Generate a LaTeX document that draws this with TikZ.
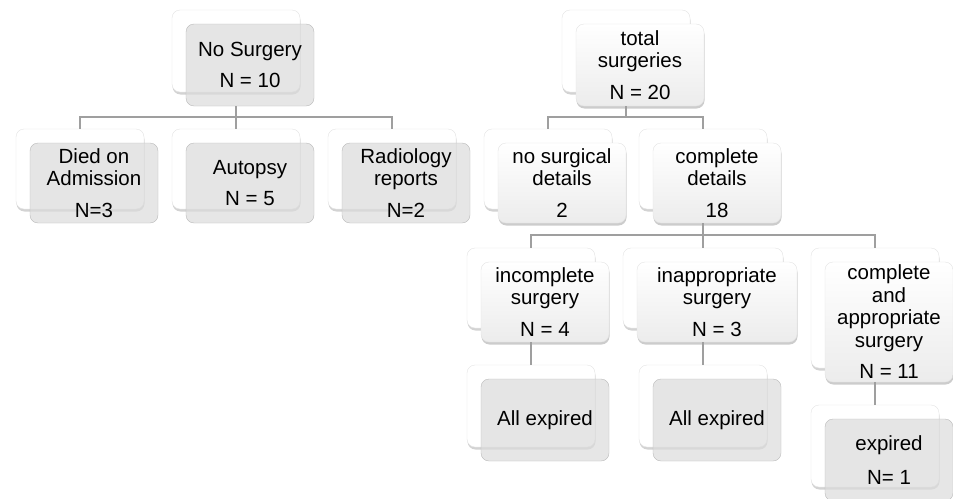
\documentclass[tikz,border=0pt]{standalone}
\usepackage{fontspec}
\setmainfont{Liberation Sans}
\usetikzlibrary{shadows}
\tikzset{
	box/.style={rounded corners=8pt, minimum width=128pt, minimum height=80pt, inner sep=0pt,
		align=center, font=\fontsize{20.5}{22.5}\selectfont},
	backbox/.style={box, draw=gray!22, fill=white,
		drop shadow={shadow xshift=0.5pt, shadow yshift=-2.5pt, opacity=0.35}},
	graybox/.style={box, draw=gray!55, fill=gray!28, fill opacity=0.7, text opacity=1},
	whitebox/.style={box, draw=gray!22, top color=white, bottom color=gray!15,
		drop shadow={shadow xshift=0.5pt, shadow yshift=-2.5pt, opacity=0.4}},
	link/.style={draw=gray!75, line width=1.5pt}
}
\begin{document}
\begin{tikzpicture}[x=1pt, y=-1pt]
	\useasboundingbox (0,0) rectangle (953,498);
	% left tree
	\node[backbox, minimum height=82pt] (nos-b) at (236,51) {};
	\node[graybox, minimum height=82pt] (nos) at (250,65) {No Surgery\\[9pt]N = 10};
	\node[backbox] (died-b) at (80,169) {};
	\node[graybox] (died) at (94,183) {Died on\\Admission\\[9pt]N=3};
	\node[backbox] (aut-b) at (236,169) {};
	\node[graybox] (aut) at (250,183) {Autopsy\\[9pt]N = 5};
	\node[backbox] (rad-b) at (392,169) {};
	\node[graybox] (rad) at (406,183) {Radiology\\reports\\[9pt]N=2};
	% right tree
	\node[backbox, minimum height=82pt] (tot-b) at (626,51) {};
	\node[whitebox, minimum height=82pt] (tot) at (640,65) {total\\surgeries\\[9pt]N = 20};
	\node[backbox] (nodet-b) at (548,169) {};
	\node[whitebox] (nodet) at (562,183) {no surgical\\details\\[9pt]2};
	\node[backbox] (comp-b) at (703,169) {};
	\node[whitebox] (comp) at (717,183) {complete\\details\\[9pt]18};
	\node[backbox] (inc-b) at (531,288) {};
	\node[whitebox] (inc) at (545,302) {incomplete\\surgery\\[9pt]N = 4};
	\node[backbox, minimum width=160pt] (inap-b) at (703,288) {};
	\node[whitebox, minimum width=160pt] (inap) at (717,302) {inappropriate\\surgery\\[9pt]N = 3};
	\node[backbox, minimum height=120pt] (cap-b) at (875,308) {};
	\node[whitebox, minimum height=120pt] (cap) at (889,322) {complete\\and\\appropriate\\surgery\\[9pt]N = 11};
	\node[backbox, minimum height=82pt] (allx1-b) at (531,406) {};
	\node[graybox, minimum height=82pt] (allx1) at (545,420) {All expired};
	\node[backbox, minimum height=82pt] (allx2-b) at (703,406) {};
	\node[graybox, minimum height=82pt] (allx2) at (717,420) {All expired};
	\node[backbox, minimum height=82pt] (exp-b) at (875,446) {};
	\node[graybox, minimum height=82pt] (exp) at (889,460) {expired\\[11pt]N= 1};
	% links
	\foreach \c in {died,aut,rad}
		\draw[link] (nos-b.center |- nos.south) -- ++(0,11) -| (\c-b.north);
	\foreach \c in {nodet,comp}
		\draw[link] (tot-b.center |- tot.south) -- ++(0,11) -| (\c-b.north);
	\foreach \c in {inc,inap,cap}
		\draw[link] (comp-b.center |- comp.south) -- ++(0,12) -| (\c-b.north);
	\draw[link] (inc-b.center |- inc.south) -- (allx1-b.north);
	\draw[link] (inap-b.center |- inap.south) -- (allx2-b.north);
	\draw[link] (cap-b.center |- cap.south) -- (exp-b.north);
\end{tikzpicture}
\end{document}
